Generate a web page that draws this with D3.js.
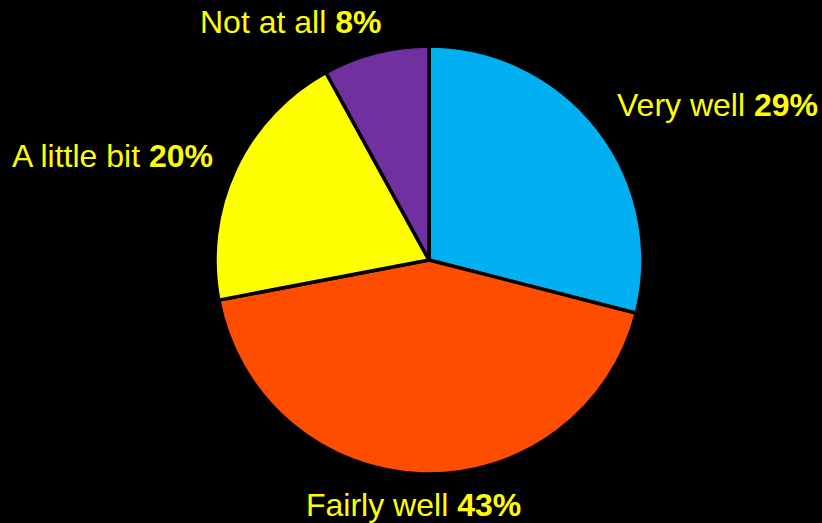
<!DOCTYPE html>
<html>
<head>
<meta charset="utf-8">
<script src="https://cdn.jsdelivr.net/npm/d3@7"></script>
<style>
  html, body { margin: 0; padding: 0; background: #000; }
  svg { display: block; }
  text { font-family: "Liberation Sans", Arial, sans-serif; font-size: 32px; fill: #FFFF00; }
</style>
</head>
<body>
<svg id="chart" width="822" height="523"></svg>
<script>
const categories = ['Very well', 'Fairly well', 'A little bit', 'Not at all'];
const values = [29, 43, 20, 8];
const colors = ['#00B0F0', '#FF4D00', '#FFFF00', '#7030A0'];

// label anchor spots, hand placed like the original
const labelPos = [
  { x: 617, y: 116 },
  { x: 306, y: 516 },
  { x: 12, y: 167 },
  { x: 200, y: 33 }
];

const svg = d3.select('#chart');
const cx = 429, cy = 260, radius = 214;

const pie = d3.pie()
  .sort(null)
  .value(d => d);

const arc = d3.arc()
  .innerRadius(0)
  .outerRadius(radius);

const g = svg.append('g')
  .attr('transform', `translate(${cx},${cy})`);

g.selectAll('path')
  .data(pie(values))
  .enter()
  .append('path')
    .attr('d', arc)
    .attr('fill', (d, i) => colors[i])
    .attr('stroke', '#000')
    .attr('stroke-width', 3.5)
    .attr('stroke-linejoin', 'round');

const labels = svg.selectAll('text.label')
  .data(categories)
  .enter()
  .append('text')
    .attr('class', 'label')
    .attr('x', (d, i) => labelPos[i].x)
    .attr('y', (d, i) => labelPos[i].y);

labels.append('tspan')
  .text(d => d + ' ');

labels.append('tspan')
  .style('font-weight', 'bold')
  .text((d, i) => values[i] + '%');
</script>
</body>
</html>
